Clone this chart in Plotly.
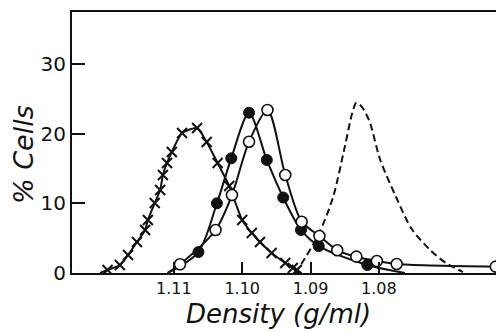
import plotly.graph_objects as go

# --- data ---
# crosses (x) series
cross_density = [1.1197, 1.1179, 1.1167, 1.1154, 1.1142, 1.1138, 1.1128, 1.1120, 1.1116,
                 1.1110, 1.1103, 1.1088, 1.1066, 1.1052, 1.1036, 1.1019, 1.1000, 1.0986,
                 1.0974, 1.0957, 1.0937, 1.0926, 1.0920]
cross_pct = [0.43, 1.15, 2.59, 4.46, 6.19, 7.63, 10.07, 11.94, 14.1,
             15.83, 17.41, 20.14, 20.86, 18.85, 15.83, 12.52, 7.63, 5.76,
             4.46, 2.88, 1.44, 0.72, 0.43]
cross_curve_start = (1.1208, 0.0)
cross_curve_end = (1.0913, 0.0)

# filled circles series
filled_density = [1.1064, 1.1037, 1.1016, 1.0990, 1.0964, 1.0940, 1.0914, 1.0888, 1.0817]
filled_pct = [3.02, 10.03, 16.5, 23.06, 16.26, 10.86, 6.19, 3.88, 1.15]
filled_curve_start = (1.1109, 0.0)
filled_curve_end = (1.0762, 0.0)

# open circles series
open_density = [1.1091, 1.1039, 1.1015, 1.0990, 1.0963, 1.0937, 1.0913, 1.0887, 1.0861,
                1.0833, 1.0803, 1.0774, 1.0629]
open_pct = [1.25, 6.19, 11.22, 18.89, 23.45, 14.1, 7.38, 5.32, 3.27,
            2.35, 1.73, 1.29, 0.91]
open_curve_start = (1.1109, 0.0)

# dashed curve (no markers)
dashed_density = [1.0923, 1.0916, 1.0888, 1.0867, 1.0850, 1.0839, 1.0833, 1.0825,
                  1.0814, 1.0798, 1.0775, 1.0752, 1.0725, 1.0702, 1.0677]
dashed_pct = [0.0, 0.91, 5.61, 10.94, 18.13, 23.02, 24.5, 23.9,
              21.87, 16.26, 10.94, 6.33, 3.31, 1.44, 0.14]

x_ticks = [1.11, 1.10, 1.09, 1.08]
x_tick_labels = ["1.11", "1.10", "1.09", "1.08"]
y_ticks = [0, 10, 20, 30]
y_tick_labels = ["0", "10", "20", "30"]

BLACK = "#111111"
FONT = "DejaVu Sans"

fig = go.Figure()

# fitted curves
fig.add_trace(go.Scatter(
    x=[cross_curve_start[0]] + cross_density + [cross_curve_end[0]],
    y=[cross_curve_start[1]] + cross_pct + [cross_curve_end[1]],
    mode="lines", line=dict(color=BLACK, width=2, shape="spline", smoothing=0.6),
    hoverinfo="skip", showlegend=False))
fig.add_trace(go.Scatter(
    x=[filled_curve_start[0]] + filled_density + [filled_curve_end[0]],
    y=[filled_curve_start[1]] + filled_pct + [filled_curve_end[1]],
    mode="lines", line=dict(color=BLACK, width=2, shape="spline", smoothing=0.8),
    hoverinfo="skip", showlegend=False))
fig.add_trace(go.Scatter(
    x=[open_curve_start[0]] + open_density,
    y=[open_curve_start[1]] + open_pct,
    mode="lines", line=dict(color=BLACK, width=2, shape="spline", smoothing=0.8),
    hoverinfo="skip", showlegend=False))
fig.add_trace(go.Scatter(
    x=dashed_density, y=dashed_pct,
    mode="lines", line=dict(color=BLACK, width=2, dash="7px,4px", shape="spline", smoothing=0.8),
    showlegend=False))

# markers
fig.add_trace(go.Scatter(
    x=cross_density, y=cross_pct, mode="markers",
    marker=dict(symbol="x-thin", size=10, line=dict(color=BLACK, width=2)),
    showlegend=False))
fig.add_trace(go.Scatter(
    x=filled_density, y=filled_pct, mode="markers",
    marker=dict(symbol="circle", size=11, color=BLACK, line=dict(color=BLACK, width=1)),
    showlegend=False))
fig.add_trace(go.Scatter(
    x=open_density, y=open_pct, mode="markers", cliponaxis=False,
    marker=dict(symbol="circle", size=11, color="white", line=dict(color=BLACK, width=1.6)),
    showlegend=False))

# page body has an 8px default margin, so the figure is sized/offset to compensate
PLOT_L, PLOT_T, PLOT_W, PLOT_H = 64, 4, 432, 261

fig.update_layout(
    width=496, height=324,
    margin=dict(l=PLOT_L, r=0, t=PLOT_T, b=324 - PLOT_T - PLOT_H, autoexpand=False),
    paper_bgcolor="white", plot_bgcolor="white",
    showlegend=False,
    xaxis=dict(
        range=[1.1249, 1.0617], tickvals=x_ticks, ticktext=x_tick_labels,
        ticks="inside", ticklen=11, tickwidth=1.5, tickcolor=BLACK,
        showline=True, linecolor=BLACK, linewidth=2, mirror=True,
        showgrid=False, zeroline=False, automargin=False,
        tickfont=dict(family=FONT, size=16, color=BLACK),
    ),
    yaxis=dict(
        range=[0, 37.55], tickvals=y_ticks, ticktext=y_tick_labels,
        ticks="inside", ticklen=13, tickwidth=1.5, tickcolor=BLACK,
        showline=True, linecolor=BLACK, linewidth=2,
        showgrid=False, zeroline=False, automargin=False,
        tickfont=dict(family=FONT, size=20, color=BLACK),
    ),
    annotations=[
        dict(text="<i>Density (g/ml)</i>", xref="paper", yref="paper",
             x=(278.5 - 72) / PLOT_W, y=-(314 - 273) / PLOT_H, xanchor="center", yanchor="middle",
             showarrow=False, font=dict(family=FONT, size=26, color=BLACK)),
        dict(text="<i>% Cells</i>", xref="paper", yref="paper",
             x=-(72 - 23) / PLOT_W, y=(273 - 155) / PLOT_H, xanchor="center", yanchor="middle",
             textangle=-90, showarrow=False, font=dict(family=FONT, size=27, color=BLACK)),
    ],
)

fig.write_html("out.html")
